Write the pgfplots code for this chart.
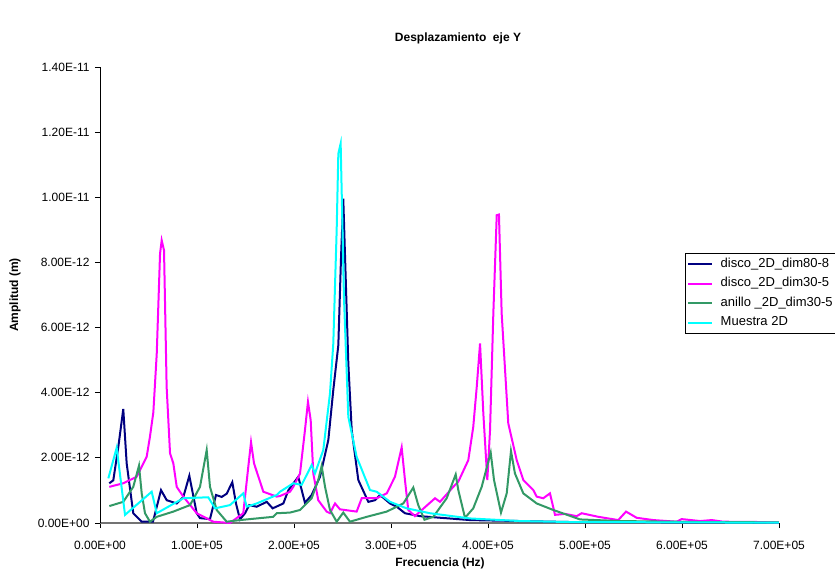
\documentclass[border=0pt]{standalone}
\usepackage{pgfplots}
\pgfplotsset{compat=1.18}
\usepackage{fontspec}
\setmainfont{Liberation Sans}
\definecolor{cNavy}{RGB}{0,0,128}
\definecolor{cMag}{RGB}{255,0,255}
\definecolor{cGreen}{RGB}{51,153,102}
\definecolor{cCyan}{RGB}{0,255,255}
\pgfplotsset{
  navyline/.style={color=cNavy, draw=cNavy, line width=2pt},
  magline/.style={color=cMag, draw=cMag, line width=2pt},
  greenline/.style={color=cGreen, draw=cGreen, line width=2pt},
  cyanline/.style={color=cCyan, draw=cCyan, line width=2pt},
  longlegend/.style={legend image code/.code={\draw[##1] (0pt,0pt) -- (24pt,0pt);}},
}
\begin{document}
\begin{tikzpicture}
\begin{axis}[
  at={(0pt,0pt)}, anchor=south west,
  scale only axis, width=679pt, height=456pt,
  xmin=0, xmax=700000, ymin=0, ymax=1.4e-11,
  axis lines*=left,
  x axis line style={draw=black!55, line width=1.6pt},
  y axis line style={draw=black, line width=0.8pt},
  xtick={0,100000,200000,300000,400000,500000,600000,700000},
  xticklabels={0.00E+00,1.00E+05,2.00E+05,3.00E+05,4.00E+05,5.00E+05,6.00E+05,7.00E+05},
  ytick={0,2e-12,4e-12,6e-12,8e-12,1e-11,1.2e-11,1.4e-11},
  yticklabels={0.00E+00,2.00E-12,4.00E-12,6.00E-12,8.00E-12,1.00E-11,1.20E-11,1.40E-11},
  scaled ticks=false,
  tick align=outside, major tick length=5pt,
  tick style={black, line width=0.8pt},
  xticklabel style={font=\fontsize{12}{14}\selectfont, yshift=-10pt},
  yticklabel style={font=\fontsize{12}{14}\selectfont, xshift=-2pt},
  legend cell align=left,
  legend style={at={(axis description cs:0.8616,0.592)}, anchor=north west,
    draw=black, font=\fontsize{13}{15}\selectfont,
    inner xsep=2pt, inner ysep=3pt, row sep=4pt,
    /tikz/every odd column/.append style={column sep=6pt},
    nodes={inner sep=1.5pt, text height=9.5pt, text depth=3pt}},
  /pgf/number format/assume math mode=true,
]
\addplot[navyline, forget plot] table {
x y
9600 1.22e-12
13700 1.31e-12
18900 2.34e-12
24000 3.50e-12
27500 1.83e-12
34300 0.30e-12
43000 0.04e-12
54600 0.04e-12
62900 1.01e-12
68800 0.70e-12
79100 0.60e-12
85900 0.80e-12
92100 1.45e-12
99700 0.30e-12
103100 0.15e-12
113400 0.12e-12
119600 0.86e-12
125500 0.80e-12
130600 0.90e-12
136400 1.25e-12
140200 0.60e-12
144300 0.11e-12
149500 0.30e-12
153900 0.55e-12
161500 0.50e-12
171900 0.65e-12
178000 0.45e-12
189000 0.60e-12
194100 1.00e-12
204400 1.42e-12
211300 0.62e-12
218200 0.86e-12
226800 1.42e-12
235400 2.55e-12
240500 4.08e-12
245700 5.46e-12
248500 8.17e-12
250800 9.96e-12
256000 4.90e-12
259500 2.85e-12
266300 1.32e-12
276600 0.65e-12
283500 0.70e-12
288700 0.86e-12
299000 0.60e-12
305900 0.50e-12
314400 0.30e-12
329900 0.21e-12
381400 0.09e-12
433000 0.06e-12
484500 0.03e-12
536100 0.03e-12
597900 0.02e-12
650000 0.02e-12
700000 0.01e-12
};
\addplot[magline, forget plot] table {
x y
9600 1.11e-12
24000 1.22e-12
37800 1.42e-12
48100 2.03e-12
51500 2.65e-12
55000 3.40e-12
58500 5.20e-12
61900 8.27e-12
63600 8.68e-12
66000 8.37e-12
68700 4.18e-12
72200 2.14e-12
75600 1.83e-12
79100 1.11e-12
85900 0.81e-12
99700 0.30e-12
116800 0.04e-12
134000 0.00
147700 0.30e-12
152900 1.73e-12
155700 2.48e-12
158800 1.83e-12
168400 0.96e-12
182200 0.81e-12
185600 0.83e-12
195900 0.96e-12
199300 1.11e-12
206200 1.52e-12
211300 2.85e-12
214400 3.72e-12
217200 3.16e-12
219900 1.52e-12
225000 0.70e-12
233700 0.35e-12
237100 0.30e-12
242300 0.60e-12
247400 0.42e-12
264600 0.35e-12
269800 0.76e-12
285300 0.76e-12
295600 0.91e-12
304100 1.42e-12
311000 2.32e-12
314400 1.32e-12
317800 0.40e-12
324700 0.21e-12
329900 0.35e-12
345400 0.76e-12
350500 0.65e-12
364200 1.11e-12
369400 1.27e-12
379700 1.93e-12
384800 2.95e-12
388400 4.18e-12
391800 5.51e-12
395200 3.36e-12
399300 1.32e-12
402100 2.85e-12
405500 6.43e-12
409000 9.45e-12
411300 9.47e-12
414100 6.43e-12
420900 3.06e-12
429600 1.93e-12
436400 1.32e-12
446700 1.01e-12
450200 0.81e-12
457000 0.76e-12
463900 0.91e-12
469100 0.25e-12
479400 0.28e-12
491400 0.21e-12
496600 0.30e-12
513700 0.19e-12
534300 0.09e-12
542300 0.35e-12
553300 0.16e-12
570400 0.09e-12
594500 0.04e-12
599700 0.12e-12
618600 0.06e-12
630600 0.09e-12
642600 0.04e-12
680400 0.03e-12
700000 0.01e-12
};
\addplot[greenline, forget plot] table {
x y
9600 0.52e-12
24000 0.65e-12
34300 1.11e-12
40200 1.76e-12
43000 0.91e-12
46400 0.30e-12
51500 0.04e-12
58500 0.19e-12
75600 0.35e-12
92800 0.55e-12
103100 1.11e-12
110000 2.24e-12
113400 1.11e-12
120300 0.40e-12
130600 0.04e-12
144300 0.09e-12
161500 0.14e-12
178600 0.19e-12
182200 0.30e-12
195900 0.32e-12
206200 0.40e-12
218200 0.76e-12
225000 1.32e-12
228500 1.75e-12
232000 1.11e-12
237100 0.40e-12
244000 0.04e-12
250800 0.32e-12
257700 0.04e-12
275000 0.19e-12
295600 0.35e-12
312700 0.60e-12
323000 1.09e-12
328100 0.55e-12
334500 0.10e-12
343600 0.19e-12
357400 0.76e-12
366700 1.49e-12
369400 1.01e-12
376300 0.16e-12
384800 0.45e-12
393500 1.11e-12
402800 2.16e-12
406200 1.32e-12
413400 0.32e-12
419300 0.91e-12
423700 2.21e-12
427800 1.52e-12
436400 0.91e-12
450200 0.60e-12
467300 0.40e-12
484500 0.22e-12
494800 0.11e-12
536100 0.06e-12
618600 0.03e-12
700000 0.02e-12
};
\addplot[cyanline, forget plot] table {
x y
8600 1.37e-12
17200 2.31e-12
25800 0.25e-12
53300 0.96e-12
58500 0.30e-12
85900 0.76e-12
111600 0.79e-12
118600 0.45e-12
134000 0.55e-12
147700 0.91e-12
151200 0.50e-12
161500 0.60e-12
182200 0.86e-12
185600 0.96e-12
199300 1.22e-12
207900 1.17e-12
218200 1.78e-12
221600 1.52e-12
230200 2.24e-12
237100 3.98e-12
240500 5.50e-12
244000 9.00e-12
245700 11.34e-12
248100 11.65e-12
251500 6.94e-12
256000 3.26e-12
264600 2.03e-12
278400 1.01e-12
285300 0.96e-12
299000 0.65e-12
316200 0.45e-12
340200 0.30e-12
381400 0.14e-12
433000 0.06e-12
484500 0.03e-12
597900 0.02e-12
700000 0.01e-12
};
\addlegendimage{navyline, line width=2pt, longlegend}
\addlegendentry{disco\_2D\_dim80-8}
\addlegendimage{magline, line width=2pt, longlegend}
\addlegendentry{disco\_2D\_dim30-5}
\addlegendimage{greenline, line width=2pt, longlegend}
\addlegendentry{anillo \_2D\_dim30-5}
\addlegendimage{cyanline, line width=2pt, longlegend}
\addlegendentry{Muestra 2D}
\end{axis}
\node[font=\bfseries\fontsize{12}{14}\selectfont] at (358pt,485pt) {Desplazamiento\ \ eje Y};
\node[font=\bfseries\fontsize{12}{14}\selectfont] at (340pt,-40pt) {Frecuencia (Hz)};
\node[font=\bfseries\fontsize{12}{14}\selectfont, rotate=90] at (-85pt,228pt) {Amplitud (m)};
\pgfresetboundingbox
\path (-100pt,-53pt) rectangle (735pt,523pt);
\end{tikzpicture}
\end{document}
